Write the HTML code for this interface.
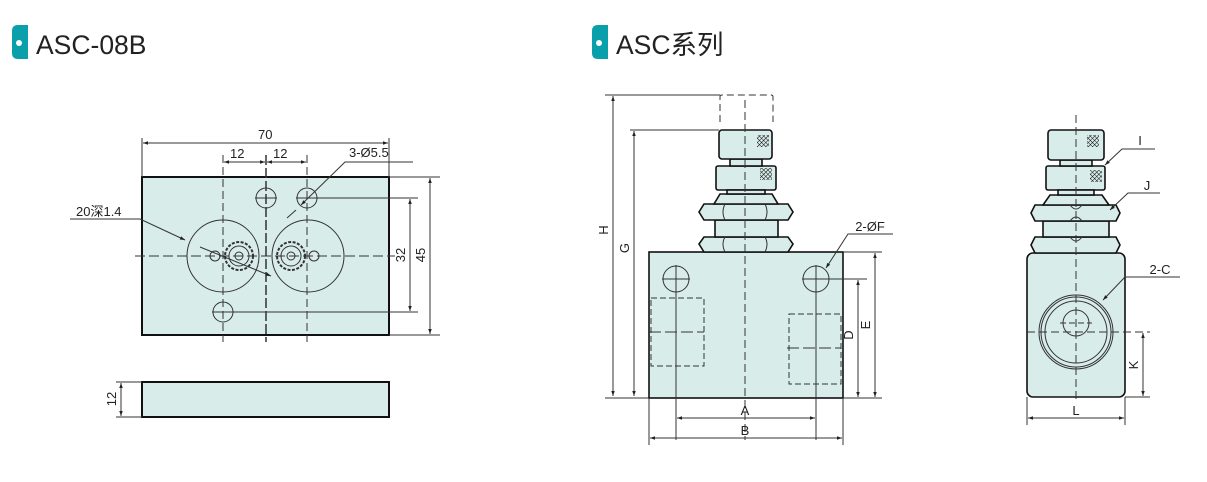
<!DOCTYPE html>
<html><head><meta charset="utf-8"><style>
html,body{margin:0;padding:0;background:#fff;}
svg{display:block;}
text{font-family:"Liberation Sans","Noto Sans CJK SC",sans-serif;}
</style></head><body>
<svg width="1207" height="482" viewBox="0 0 1207 482" xmlns="http://www.w3.org/2000/svg">
<defs>
<marker id="a" viewBox="0 0 10 10" refX="10" refY="5" markerWidth="7" markerHeight="5" orient="auto-start-reverse" markerUnits="userSpaceOnUse"><path d="M0,1.5 L10,5 L0,8.5z" fill="#222"/></marker>
<pattern id="k" width="3" height="3" patternUnits="userSpaceOnUse" patternTransform="rotate(45)"><path d="M0,0H3M0,0V3" stroke="#111" stroke-width="1.1"/></pattern>
</defs>
<!-- headers -->
<path d="M18,25 H28 V59 H18 Q12,59 12,53 V31 Q12,25 18,25z" fill="#0aa0ab"/>
<circle cx="19" cy="43" r="3" fill="#fff"/>
<text x="36" y="54" font-size="26.5" fill="#222">ASC-08B</text>
<path d="M598,25 H608 V59 H598 Q592,59 592,53 V31 Q592,25 598,25z" fill="#0aa0ab"/>
<circle cx="599" cy="43" r="3" fill="#fff"/>
<text x="616" y="54" font-size="26.5" fill="#222">ASC系列</text>

<g fill="none" stroke="#333" stroke-width="1">
<!-- LEFT plate -->
<rect x="142" y="177" width="247" height="158" fill="#d8ece9" stroke="#111" stroke-width="2"/>
<line x1="142" y1="177" x2="142" y2="138"/><line x1="389" y1="177" x2="389" y2="138"/>
<line x1="143" y1="143" x2="388" y2="143" marker-start="url(#a)" marker-end="url(#a)"/>
<line x1="223" y1="155" x2="223" y2="342" stroke-dasharray="8,4"/>
<line x1="266" y1="155" x2="266" y2="342" stroke-dasharray="10,3" stroke-width="1.5"/>
<line x1="307" y1="155" x2="307" y2="342" stroke-dasharray="8,4"/>
<line x1="224" y1="162" x2="265" y2="162" marker-start="url(#a)" marker-end="url(#a)"/>
<line x1="267" y1="162" x2="306" y2="162" marker-start="url(#a)" marker-end="url(#a)"/>
<line x1="135" y1="256" x2="395" y2="256" stroke-dasharray="10,4"/>
<circle cx="266" cy="198" r="10"/><circle cx="307" cy="198" r="10"/><circle cx="223" cy="312" r="10"/>
<line x1="255" y1="198" x2="277" y2="198"/>
<line x1="296" y1="198" x2="418" y2="198"/><line x1="212" y1="312" x2="418" y2="312"/>
<circle cx="223" cy="256" r="36"/><circle cx="308" cy="256" r="36"/>
<circle cx="215" cy="256" r="5"/><circle cx="314" cy="256" r="5"/>
<circle cx="239" cy="256" r="14" stroke-width="2" stroke-dasharray="3,1.5"/><circle cx="239" cy="256" r="10"/><circle cx="239" cy="256" r="4"/>
<circle cx="291" cy="256" r="14" stroke-width="2" stroke-dasharray="3,1.5"/><circle cx="291" cy="256" r="10"/><circle cx="291" cy="256" r="4"/>
<line x1="410" y1="199" x2="410" y2="311" marker-start="url(#a)" marker-end="url(#a)"/>
<line x1="389" y1="177" x2="440" y2="177"/><line x1="389" y1="335" x2="440" y2="335"/>
<line x1="430" y1="178" x2="430" y2="334" marker-start="url(#a)" marker-end="url(#a)"/>
<!-- leaders -->
<polyline points="70,219 140,219 185,240" marker-end="url(#a)"/>
<line x1="200" y1="247" x2="271" y2="276" marker-end="url(#a)"/>
<polyline points="413,162 345,162 301,205" marker-end="url(#a)"/>
<line x1="296" y1="210" x2="287" y2="218"/>
<!-- bottom plate -->
<rect x="142" y="382" width="247" height="35" fill="#d8ece9" stroke="#111" stroke-width="2"/>
<line x1="116" y1="382" x2="142" y2="382"/><line x1="116" y1="417" x2="142" y2="417"/>
<line x1="121" y1="383" x2="121" y2="416" marker-start="url(#a)" marker-end="url(#a)"/>
</g>
<g font-size="13" fill="#222">
<text x="258" y="139">70</text>
<text x="230" y="158">12</text><text x="273" y="158">12</text>
<text x="349" y="157">3-Ø5.5</text>
<text x="76" y="216">20深1.4</text>
<text transform="translate(405,255) rotate(-90)" text-anchor="middle">32</text>
<text transform="translate(425,255) rotate(-90)" text-anchor="middle">45</text>
<text transform="translate(116,399) rotate(-90)" text-anchor="middle">12</text>
</g>

<!-- MIDDLE -->
<g fill="none" stroke="#333" stroke-width="1">
<line x1="605" y1="95" x2="720" y2="95"/>
<path d="M720,122 V97 Q720,95 722,95 H771 Q773,95 773,97 V122" stroke-dasharray="7,4"/>
<line x1="613" y1="96" x2="613" y2="396" marker-start="url(#a)" marker-end="url(#a)"/>
<line x1="630" y1="130" x2="719" y2="130"/>
<line x1="634" y1="131" x2="634" y2="396" marker-start="url(#a)" marker-end="url(#a)"/>
<line x1="605" y1="398" x2="649" y2="398"/>
<g fill="#d8ece9" stroke="#111" stroke-width="1.6">
<rect x="649" y="252" width="194" height="146"/>
<path d="M699,244 L704,237 H788 L793,244 L788,252 H704z"/>
<rect x="715" y="220" width="63" height="17"/>
<path d="M699,212 L704,204 H788 L793,212 L788,220 H704z"/>
<path d="M714,204 L720,194 H772 L778,204z"/>
<rect x="716" y="166" width="60" height="24" rx="2"/>
<rect x="727" y="190" width="38" height="4"/>
<rect x="730" y="159" width="32" height="7"/>
<rect x="719" y="130" width="53" height="29" rx="3"/>
</g>
<rect x="757" y="135" width="12" height="12" fill="url(#k)" stroke="none"/>
<rect x="760" y="168" width="12" height="12" fill="url(#k)" stroke="none"/>
<path d="M725,204 Q721,212 725,220 M765,204 Q769,212 765,220 M725,237 Q721,244 725,252 M765,237 Q769,244 765,252"/>
<line x1="745" y1="100" x2="745" y2="440" stroke-dasharray="8,4"/>
<circle cx="676" cy="279" r="13"/><circle cx="816" cy="279" r="13"/>
<line x1="662" y1="279" x2="690" y2="279"/><line x1="676" y1="265" x2="676" y2="440"/>
<line x1="802" y1="279" x2="867" y2="279"/><line x1="816" y1="265" x2="816" y2="440"/>
<rect x="651" y="298" width="53" height="68" stroke-dasharray="6,3"/>
<line x1="649" y1="332" x2="704" y2="332" stroke-dasharray="12,4"/>
<rect x="789" y="314" width="52" height="70" stroke-dasharray="6,3"/>
<line x1="787" y1="348" x2="841" y2="348" stroke-dasharray="12,4"/>
<line x1="649" y1="398" x2="649" y2="445"/><line x1="843" y1="398" x2="843" y2="445"/>
<line x1="677" y1="418" x2="815" y2="418" marker-start="url(#a)" marker-end="url(#a)"/>
<line x1="650" y1="438" x2="842" y2="438" marker-start="url(#a)" marker-end="url(#a)"/>
<line x1="843" y1="252" x2="882" y2="252"/><line x1="843" y1="398" x2="882" y2="398"/>
<line x1="858" y1="280" x2="858" y2="397" marker-start="url(#a)" marker-end="url(#a)"/>
<line x1="875" y1="253" x2="875" y2="397" marker-start="url(#a)" marker-end="url(#a)"/>
<polyline points="893,234 848,234 826,268" marker-end="url(#a)"/>
</g>
<g font-size="13" fill="#222" text-anchor="middle">
<text transform="translate(608,230) rotate(-90)">H</text>
<text transform="translate(629,248) rotate(-90)">G</text>
<text transform="translate(853,335) rotate(-90)">D</text>
<text transform="translate(870,325) rotate(-90)">E</text>
<text x="745" y="415">A</text>
<text x="745" y="435">B</text>
<text x="870" y="231">2-ØF</text>
</g>

<!-- RIGHT -->
<g fill="none" stroke="#333" stroke-width="1">
<g fill="#d8ece9" stroke="#111" stroke-width="1.6">
<rect x="1027" y="253" width="98" height="144" rx="6"/>
<path d="M1031,245 L1035,237 H1116 L1120,245 L1116,253 H1035z"/>
<rect x="1043" y="221" width="66" height="16"/>
<path d="M1031,213 L1035,205 H1116 L1120,213 L1116,221 H1035z"/>
<path d="M1043,205 L1050,195 H1102 L1109,205z"/>
<rect x="1046" y="166" width="59" height="24" rx="2"/>
<rect x="1058" y="190" width="36" height="5"/>
<rect x="1060" y="160" width="32" height="6"/>
<rect x="1048" y="130" width="56" height="30" rx="3"/>
</g>
<rect x="1087" y="135" width="12" height="12" fill="url(#k)" stroke="none"/>
<rect x="1090" y="170" width="12" height="12" fill="url(#k)" stroke="none"/>
<path d="M1070,205 Q1076,213 1082,205 M1070,221 Q1076,213 1082,221 M1070,237 Q1076,245 1082,237"/>
<line x1="1076" y1="115" x2="1076" y2="400" stroke-dasharray="8,4"/>
<circle cx="1076" cy="332" r="37"/><circle cx="1076" cy="332" r="35"/><circle cx="1076" cy="332" r="31"/>
<circle cx="1076" cy="323" r="13"/>
<line x1="1060" y1="323" x2="1092" y2="323" stroke-dasharray="6,3"/>
<line x1="1027" y1="332" x2="1150" y2="332" stroke-dasharray="8,4"/>
<line x1="1125" y1="397" x2="1150" y2="397"/>
<line x1="1143" y1="333" x2="1143" y2="396" marker-start="url(#a)" marker-end="url(#a)"/>
<line x1="1027" y1="397" x2="1027" y2="425"/><line x1="1125" y1="397" x2="1125" y2="425"/>
<line x1="1028" y1="418" x2="1124" y2="418" marker-start="url(#a)" marker-end="url(#a)"/>
<polyline points="1155,149 1122,149 1105,165" marker-end="url(#a)"/>
<polyline points="1160,193 1128,193 1110,210" marker-end="url(#a)"/>
<polyline points="1180,277 1125,277 1103,300" marker-end="url(#a)"/>
</g>
<g font-size="13" fill="#222" text-anchor="middle">
<text x="1140" y="145">I</text>
<text x="1147" y="190">J</text>
<text x="1160" y="274">2-C</text>
<text transform="translate(1138,365) rotate(-90)">K</text>
<text x="1076" y="415">L</text>
</g>
</svg>
</body></html>
